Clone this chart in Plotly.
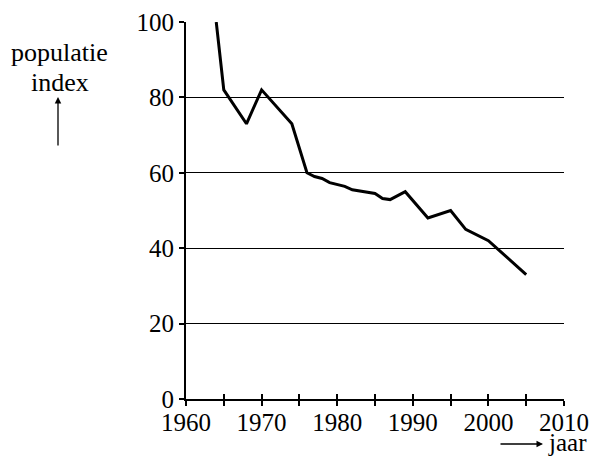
import plotly.graph_objects as go

years = [1964, 1965, 1968, 1970, 1974, 1976, 1977, 1978, 1979, 1980, 1981, 1982,
         1985, 1986, 1987, 1989, 1992, 1995, 1997, 2000, 2005]
index_values = [100, 82, 73, 82, 73, 60, 59, 58.5, 57.4, 57, 56.4, 55.5,
                54.5, 53.2, 52.9, 55, 48, 50, 45, 42, 33]
x_ticks = [1960, 1965, 1970, 1975, 1980, 1985, 1990, 1995, 2000, 2005, 2010]
x_tick_labels = ["1960", "", "1970", "", "1980", "", "1990", "", "2000", "", "2010"]
y_ticks = [0, 20, 40, 60, 80, 100]
y_tick_labels = ["0", "20", "40", "60", "80", "100"]

W, H = 593, 461
L, R, T, B = 186, 29, 22, 62
pw, ph = W - L - R, H - T - B

def px(xp):
    return (xp - L) / pw

def py(yp):
    return (H - B - yp) / ph

FONT = "Liberation Serif"
tf = dict(family=FONT, size=25, color="black")
lf = dict(family=FONT, size=26, color="black")

fig = go.Figure()
fig.add_trace(go.Scatter(x=years, y=index_values, mode="lines",
                         line=dict(color="black", width=3), showlegend=False,
                         hoverinfo="skip"))
# invisible trace on the overlay axis to hold inside ticks
fig.add_trace(go.Scatter(x=[1960, 2010], y=[0, 0], xaxis="x2", mode="lines",
                         line=dict(width=0), showlegend=False, hoverinfo="skip"))

fig.update_layout(
    width=W, height=H,
    margin=dict(l=L, r=R, t=T, b=B, autoexpand=False),
    paper_bgcolor="white", plot_bgcolor="white",
    font=tf,
    xaxis=dict(range=[1960, 2010], tickvals=x_ticks, ticktext=x_tick_labels,
               ticks="outside", ticklen=5, tickwidth=1.5, tickcolor="black",
               ticklabelstandoff=-5,
               showline=True, linecolor="black", linewidth=2,
               showgrid=False, zeroline=False, automargin=False,
               tickfont=tf),
    xaxis2=dict(range=[1960, 2010], overlaying="x", side="bottom",
                tickvals=x_ticks, showticklabels=False,
                ticks="inside", ticklen=5, tickwidth=1.5, tickcolor="black",
                showline=False, showgrid=False, zeroline=False, automargin=False),
    yaxis=dict(range=[0, 100], tickvals=y_ticks, ticktext=y_tick_labels,
               ticks="outside", ticklen=5, tickwidth=1.5, tickcolor="black",
               showline=True, linecolor="black", linewidth=2,
               showgrid=True, gridcolor="black", gridwidth=1,
               zeroline=False, automargin=False,
               tickfont=tf),
)

annots = [
    dict(text="populatie", x=px(59), y=py(52), font=lf),
    dict(text="index", x=px(60), y=py(82), font=lf),
    dict(text="jaar", x=px(546), y=py(442), xanchor="left", font=tf),
]
for a in annots:
    fig.add_annotation(xref="paper", yref="paper", showarrow=False,
                       xanchor=a.get("xanchor", "center"), yanchor="middle",
                       font=a["font"], text=a["text"], x=a["x"], y=a["y"])

# arrows
fig.add_annotation(xref="paper", yref="paper", x=px(58), y=py(97), text="",
                   showarrow=True, ax=0, ay=50, arrowhead=2, arrowsize=1,
                   arrowwidth=1.3, arrowcolor="black", standoff=0)
fig.add_annotation(xref="paper", yref="paper", x=px(543), y=py(444), text="",
                   showarrow=True, ax=-44, ay=0, arrowhead=2, arrowsize=1,
                   arrowwidth=1.3, arrowcolor="black", standoff=0)

# partially visible heading glyph at the top-left
fig.add_annotation(xref="paper", yref="paper", x=px(42), y=py(1),
                   xanchor="center", yanchor="bottom", showarrow=False,
                   text="<b>g</b>", font=dict(family=FONT, size=36, color="black"))

fig.write_html("out.html", config={"displayModeBar": False},
               post_script="document.body.style.margin='0';")
